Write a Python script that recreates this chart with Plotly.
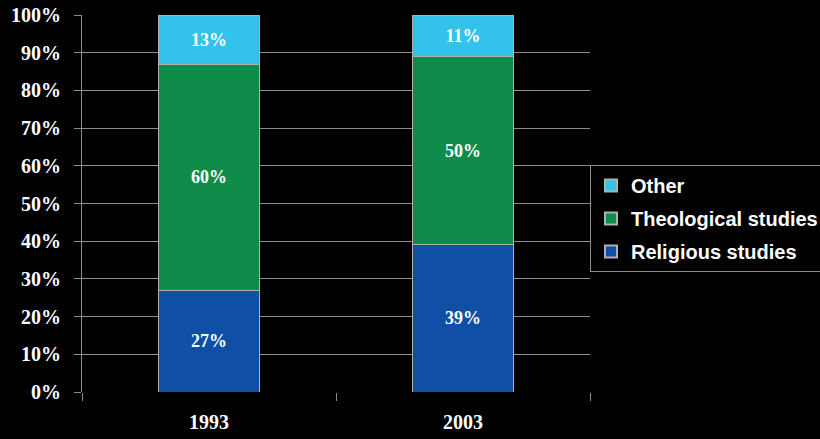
import plotly.graph_objects as go

years = ["1993", "2003"]
religious = [27, 39]
theological = [60, 50]
other = [13, 11]
y_ticks = list(range(0, 101, 10))
y_tick_labels = [f"{v}%" for v in y_ticks]

series = [
    ("Religious studies", religious, "#0f4fa5", 3),
    ("Theological studies", theological, "#0f8b4a", 2),
    ("Other", other, "#32c2ea", 1),
]

fig = go.Figure()
for name, vals, col, rank in series:
    fig.add_trace(go.Bar(
        x=years, y=vals, name=name, legendgroup=name, legendrank=rank,
        marker=dict(color=col, line=dict(color="#b0b0b0", width=1)),
        text=[f"{v}%" for v in vals], texttemplate="%{text}",
        textposition="inside", insidetextanchor="middle",
        textfont=dict(family="Liberation Serif", size=18, color="white", weight="bold"),
        width=0.4,
    ))

fig.update_layout(
    barmode="stack",
    width=820, height=439,
    paper_bgcolor="black", plot_bgcolor="black",
    margin=dict(l=82, r=230, t=15, b=47, autoexpand=False),
    showlegend=True,
    legend=dict(
        x=1.0, xanchor="left", y=0.602, yanchor="top",
        traceorder="grouped", tracegroupgap=4,
        font=dict(family="Liberation Sans", size=20, color="white", weight="bold"),
        bgcolor="black", bordercolor="#8c8c8c", borderwidth=1,
        itemsizing="constant",
    ),
    xaxis=dict(
        tickson="boundaries", ticks="outside", ticklen=8, tickcolor="#8c8c8c",
        showgrid=False, showline=False, ticklabelstandoff=16, automargin=False,
        tickfont=dict(family="Liberation Serif", size=20, color="white", weight="bold"),
    ),
    yaxis=dict(
        range=[0, 100], tickvals=y_ticks, ticktext=y_tick_labels,
        showgrid=True, gridcolor="#8c8c8c", gridwidth=1,
        showline=True, linecolor="#8c8c8c", linewidth=1,
        ticks="outside", ticklen=7, tickcolor="#8c8c8c",
        zeroline=False, ticklabelstandoff=9, automargin=False,
        tickfont=dict(family="Liberation Serif", size=20, color="white", weight="bold"),
    ),
)

fig.write_html(
    "out.html",
    config={"displayModeBar": False},
    post_script="document.body.style.margin='0';document.body.style.background='black';",
)
